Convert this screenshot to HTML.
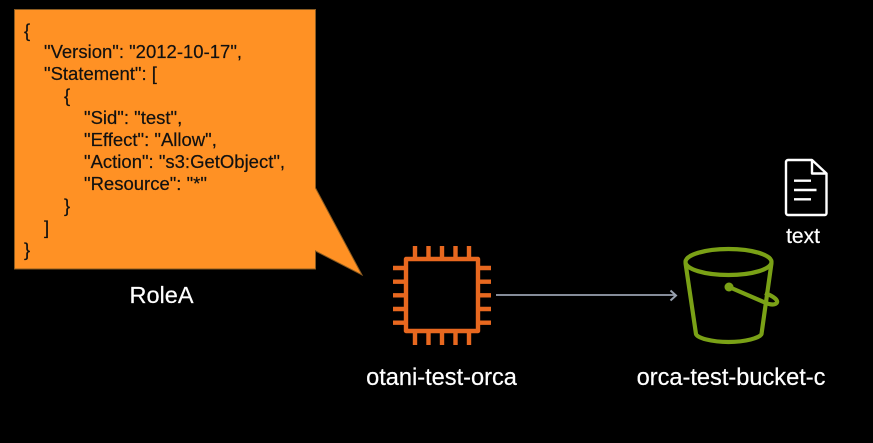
<!DOCTYPE html>
<html>
<head>
<meta charset="utf-8">
<style>
html,body{margin:0;padding:0;background:#000;width:873px;height:443px;overflow:hidden}
svg{display:block}
text{font-family:"Liberation Sans",Arial,sans-serif}
</style>
</head>
<body>
<svg width="873" height="443" viewBox="0 0 873 443" xmlns="http://www.w3.org/2000/svg">
<rect width="873" height="443" fill="#000"/>
<polygon points="14.5,9.5 315.5,9.5 315.5,188 362,275 315.5,251 315.5,269 14.5,269" fill="#FF9124" stroke="#8a5a20" stroke-width="1"/>
<g font-size="18.500" fill="#111" stroke="#111" stroke-width="0.2">
<text x="24" y="37">{</text>
<text x="44" y="58">"Version": "2012-10-17",</text>
<text x="44" y="80">"Statement": [</text>
<text x="64" y="102">{</text>
<text x="84" y="124">"Sid": "test",</text>
<text x="84" y="146">"Effect": "Allow",</text>
<text x="84" y="168">"Action": "s3:GetObject",</text>
<text x="84" y="190">"Resource": "*"</text>
<text x="64" y="212">}</text>
<text x="44" y="234">]</text>
<text x="24" y="256">}</text>
</g>
<text x="161.5" y="303" font-size="23.500" fill="#fff" stroke="#fff" stroke-width="0.2" text-anchor="middle">RoleA</text>

<g fill="none" stroke="#E8681F" stroke-width="4.400">
<rect x="406" y="259" width="72" height="72" stroke-linejoin="round"/>
<path d="M415 246V257M428.500 246V257M442 246V257M455.500 246V257M469 246V257
M415 333V345M428.500 333V345M442 333V345M455.500 333V345M469 333V345
M393 268H404M393 281.700H404M393 295.300H404M393 309H404M393 322.700H404
M480 268H491M480 281.700H491M480 295.300H491M480 309H491M480 322.700H491"/>
</g>
<text x="441.500" y="385" font-size="23.600" fill="#fff" stroke="#fff" stroke-width="0.2" text-anchor="middle">otani-test-orca</text>

<path d="M496 295H675" stroke="#98A1AF" stroke-width="1.800" fill="none"/>
<path d="M670.500 290.500L676 295.500L670.500 300.500" stroke="#98A1AF" stroke-width="2" fill="none"/>

<g fill="none" stroke="#7AA116" stroke-width="4.200">
<ellipse cx="728.500" cy="262" rx="43" ry="13"/>
<path d="M685.500 263L696 334C697 338 712 342 728.500 342C745 342 760 338 761.500 334L771.500 263"/>
<path d="M729 287L766 303C773 306 778 304 777 301C776 298 770 295 765 293"/>
</g>
<circle cx="729" cy="287" r="4.500" fill="#7AA116"/>
<text x="731" y="385" font-size="23.600" fill="#fff" stroke="#fff" stroke-width="0.2" text-anchor="middle">orca-test-bucket-c</text>

<g fill="none" stroke="#fff" stroke-width="2.400">
<path d="M812 160H788C787 160 786 161 786 162V213C786 214 787 215 788 215H825C826 215 826.500 214 826.500 213V173.500L812 160V173.500H826.500" stroke-linejoin="round"/>
<path d="M794 180.700H811M794 190H816.500M794 199.300H811"/>
</g>
<text x="803" y="243" font-size="21" fill="#fff" stroke="#fff" stroke-width="0.2" text-anchor="middle">text</text>
</svg>
</body>
</html>
